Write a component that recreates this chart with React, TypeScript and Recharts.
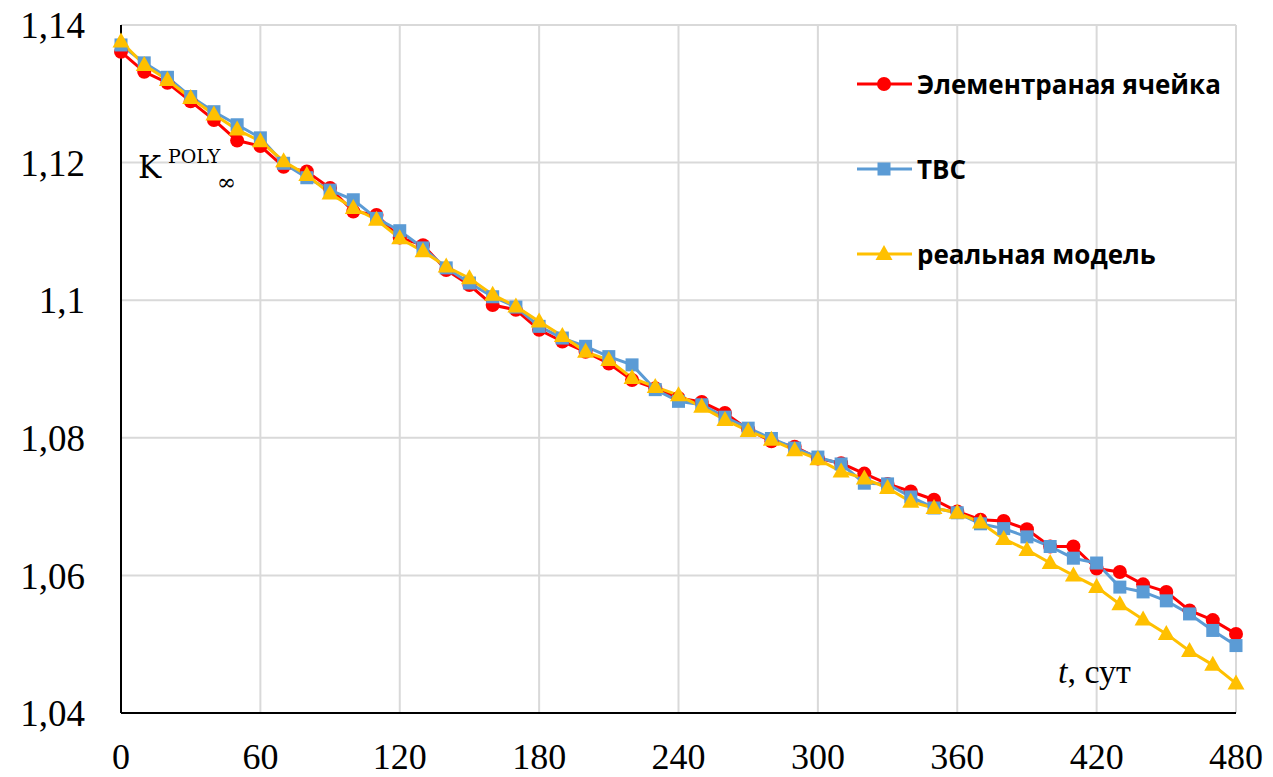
import React from 'react';
import { LineChart, Line, XAxis, YAxis, CartesianGrid, Legend } from 'recharts';

// time, days
const tDays = [
  0, 10, 20, 30, 40, 50, 60, 70, 80, 90, 100, 110, 120, 130, 140, 150, 160, 170, 180, 190,
  200, 210, 220, 230, 240, 250, 260, 270, 280, 290, 300, 310, 320, 330, 340, 350, 360, 370,
  380, 390, 400, 410, 420, 430, 440, 450, 460, 470, 480,
];

// Элементраная ячейка
const cellValues = [
  1.1361, 1.1332, 1.1316, 1.1289, 1.1262, 1.1232, 1.1224, 1.1194, 1.1187, 1.1163, 1.1129,
  1.1124, 1.1091, 1.108, 1.1044, 1.1022, 1.0993, 1.0986, 1.0957, 1.094, 1.0925, 1.0908,
  1.0884, 1.0872, 1.0858, 1.0852, 1.0836, 1.0812, 1.0795, 1.0787, 1.077, 1.0763, 1.0748,
  1.0733, 1.0722, 1.071, 1.0693, 1.0681, 1.0679, 1.0667, 1.0642, 1.0642, 1.061, 1.0605,
  1.0587, 1.0576, 1.0549, 1.0535, 1.0515,
];

// ТВС
const tvsValues = [
  1.1371, 1.1345, 1.1324, 1.1296, 1.1274, 1.1255, 1.1236, 1.1199, 1.1178, 1.116, 1.1146,
  1.1119, 1.1101, 1.1076, 1.1047, 1.1025, 1.1005, 1.099, 1.0962, 1.0945, 1.0933, 1.0918,
  1.0906, 1.087, 1.0853, 1.0848, 1.083, 1.0814, 1.0799, 1.0785, 1.0772, 1.0762, 1.0734,
  1.0733, 1.0714, 1.0698, 1.0691, 1.0675, 1.0668, 1.0656, 1.0642, 1.0625, 1.0618, 1.0583,
  1.0576, 1.0563, 1.0544, 1.052, 1.0498,
];

// реальная модель
const realValues = [
  1.1376, 1.1342, 1.132, 1.1294, 1.127, 1.1248, 1.1231, 1.1202, 1.1182, 1.1155, 1.1134,
  1.1117, 1.109, 1.1071, 1.1049, 1.1032, 1.1008, 1.0991, 1.0969, 1.0948, 1.0925, 1.0913,
  1.0887, 1.0874, 1.0862, 1.0845, 1.0826, 1.081, 1.0797, 1.0782, 1.0769, 1.0751, 1.0741,
  1.0727, 1.0707, 1.0698, 1.0691, 1.0677, 1.0653, 1.0637, 1.0618, 1.06, 1.0583, 1.0558,
  1.0536, 1.0515, 1.049, 1.047, 1.0443,
];

const xTicks = [0, 60, 120, 180, 240, 300, 360, 420, 480];
const yTicks = [1.04, 1.06, 1.08, 1.1, 1.12, 1.14];
const yTickLabels = ['1,04', '1,06', '1,08', '1,1', '1,12', '1,14'];

const RED = '#FF0000';
const BLUE = '#5B9BD5';
const GOLD = '#FFC000';

const series = [
  { key: 'cell', name: 'Элементраная ячейка', color: RED, shape: 'circle' },
  { key: 'tvs', name: 'ТВС', color: BLUE, shape: 'square' },
  { key: 'real', name: 'реальная модель', color: GOLD, shape: 'triangle' },
];

const data = tDays.map((t, i) => ({
  t,
  cell: cellValues[i],
  tvs: tvsValues[i],
  real: realValues[i],
}));

const serif = '"DejaVu Serif", "Liberation Serif", serif';
const tickFont = '"Liberation Serif", "DejaVu Serif", serif';

function Marker({ shape, cx, cy, color }: { shape: string; cx: number; cy: number; color: string }) {
  if (shape === 'circle') return <circle cx={cx} cy={cy} r={7} fill={color} />;
  if (shape === 'square') return <rect x={cx - 6.5} y={cy - 6.5} width={13} height={13} fill={color} />;
  return (
    <polygon
      points={`${cx},${cy - 9} ${cx + 8.5},${cy + 6} ${cx - 8.5},${cy + 6}`}
      fill={color}
    />
  );
}

const makeDot = (shape: string, color: string) => (props: any) => {
  const { cx, cy, index } = props;
  if (cx == null || cy == null) return <g key={`${shape}-${index}`} />;
  return (
    <g key={`${shape}-${index}`}>
      <Marker shape={shape} cx={cx} cy={cy} color={color} />
    </g>
  );
};

const renderLegend = () => (
  <div>
    {series.map((s) => (
      <div key={s.key} style={{ display: 'flex', alignItems: 'center', height: 85 }}>
        <svg width={60} height={24} style={{ flex: 'none' }}>
          <line x1={0} y1={12} x2={55} y2={12} stroke={s.color} strokeWidth={3} />
          <Marker shape={s.shape} cx={27} cy={12} color={s.color} />
        </svg>
        <span
          style={{
            fontFamily: '"Open Sans", "Noto Sans", sans-serif',
            fontWeight: 700,
            fontSize: 26,
            color: '#000',
            whiteSpace: 'nowrap',
          }}
        >
          {s.name}
        </span>
      </div>
    ))}
  </div>
);

export default function App() {
  return (
    <div style={{ position: 'relative', width: 1273, height: 777 }}>
      <style>{`body{margin:0;background:#fff}`}</style>
      <LineChart width={1273} height={777} data={data} margin={{ top: 25, right: 37, left: 8, bottom: 4 }}>
        <CartesianGrid stroke="#d9d9d9" strokeWidth={2} />
        <XAxis
          dataKey="t"
          type="number"
          domain={[0, 480]}
          ticks={xTicks}
          height={60}
          tickLine={false}
          tickSize={0}
          tickMargin={30}
          axisLine={{ stroke: '#000', strokeWidth: 2 }}
          tick={{ fill: '#000', fontSize: 36, fontFamily: tickFont }}
          interval={0}
        />
        <YAxis
          type="number"
          domain={[1.04, 1.14]}
          ticks={yTicks}
          width={113}
          tickLine={false}
          tickSize={0}
          tickMargin={36}
          axisLine={{ stroke: '#000', strokeWidth: 2 }}
          tick={{ fill: '#000', fontSize: 37, fontFamily: tickFont }}
          tickFormatter={(v: number) => yTickLabels[yTicks.indexOf(v)] ?? String(v)}
          interval={0}
        />
        <Legend
          content={renderLegend}
          layout="vertical"
          verticalAlign="middle"
          align="center"
          wrapperStyle={{ left: 857, top: 41, width: 410, height: 260 }}
        />
        {series.map((s) => (
          <Line
            key={s.key}
            dataKey={s.key}
            name={s.name}
            type="linear"
            stroke={s.color}
            strokeWidth={3}
            dot={makeDot(s.shape, s.color)}
            activeDot={false}
            isAnimationActive={false}
          />
        ))}
      </LineChart>
      <svg
        width={1273}
        height={777}
        style={{ position: 'absolute', left: 0, top: 0, pointerEvents: 'none' }}
      >
        <text x={138} y={178} fontFamily={serif} fontSize={31} fill="#000">K</text>
        <text x={168} y={163} fontFamily={serif} fontSize={19} fill="#000">POLY</text>
        <text x={217} y={190} fontFamily={serif} fontSize={23} fill="#000">∞</text>
        <text x={1058} y={683} fontFamily={tickFont} fontSize={34} fill="#000">
          <tspan fontStyle="italic">t</tspan>, сут
        </text>
      </svg>
    </div>
  );
}
